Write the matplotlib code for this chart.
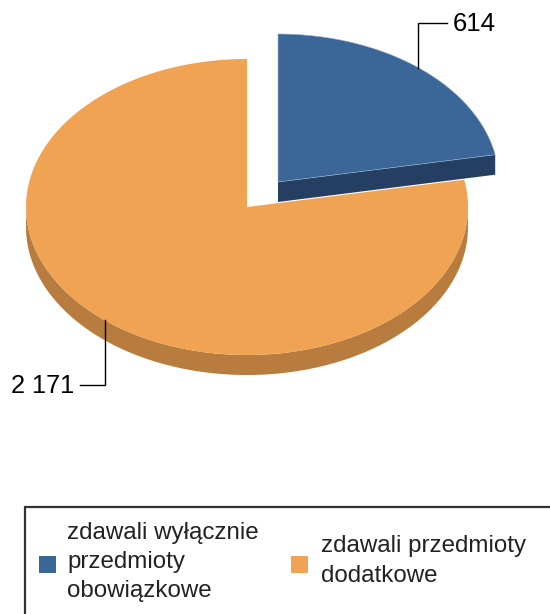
import numpy as np
import matplotlib
matplotlib.use("Agg")
import matplotlib.pyplot as plt
from matplotlib.patches import Polygon, Rectangle

plt.rcParams['font.family'] = ['Liberation Sans', 'DejaVu Sans']

categories = ["zdawali wyłącznie\nprzedmioty\nobowiązkowe", "zdawali przedmioty\ndodatkowe"]
values = [614, 2171]
value_labels = ["614", "2 171"]
top_colors = ["#3A6698", "#F0A352"]
side_colors = ["#243F61", "#B87D3E"]

W, H = 550, 614
fig = plt.figure(figsize=(W / 100, H / 100), dpi=100)
ax = fig.add_axes([0, 0, 1, 1])
ax.set_xlim(0, W)
ax.set_ylim(H, 0)
ax.axis("off")

RX, RY, DEPTH = 221, 148, 20
CENTER_ORANGE = (247, 207)
CENTER_BLUE = (278, 182)

share = values[0] / sum(values) * 2 * np.pi


def arc(c, t0, t1, n=240, dy=0):
    t = np.linspace(t0, t1, n)
    return np.column_stack([c[0] + RX * np.sin(t), c[1] - RY * np.cos(t) + dy])


# orange slice: rim then top surface
a = arc(CENTER_ORANGE, np.pi / 2, 3 * np.pi / 2)
b = arc(CENTER_ORANGE, np.pi / 2, 3 * np.pi / 2, dy=DEPTH)
ax.add_patch(Polygon(np.vstack([a, b[::-1]]), closed=True, fc=side_colors[1], ec="none", zorder=1))
top = np.vstack([[CENTER_ORANGE], arc(CENTER_ORANGE, share, 2 * np.pi)])
ax.add_patch(Polygon(top, closed=True, fc=top_colors[1], ec="none", zorder=2))

# blue exploded slice: cut face then top surface
end = arc(CENTER_BLUE, share, share, n=1)[0]
face = [CENTER_BLUE, end, (end[0], end[1] + DEPTH), (CENTER_BLUE[0], CENTER_BLUE[1] + DEPTH)]
ax.add_patch(Polygon(face, closed=True, fc=side_colors[0], ec="none", zorder=3))
top = np.vstack([[CENTER_BLUE], arc(CENTER_BLUE, 0, share)])
ax.add_patch(Polygon(top, closed=True, fc=top_colors[0], ec="#9DB2CB", lw=0.4, zorder=4))

# leader lines and value labels
ax.plot([418, 418, 447], [68, 23, 23], color="black", lw=1, zorder=5, solid_joinstyle="miter")
ax.text(453, 24, value_labels[0], fontsize=18.5, ha="left", va="center", color="black")
ax.plot([105, 105, 80], [320, 385, 385], color="black", lw=1, zorder=5, solid_joinstyle="miter")
ax.text(11, 386, value_labels[1], fontsize=18.3, ha="left", va="center", color="black")

# legend
ax.add_patch(Rectangle((25, 507), 540, 130, fc="white", ec="#333333", lw=1.6, zorder=1))
for x, txt_x, y, col, cat in zip([39, 291], [67, 321], [562, 561], top_colors, categories):
    ax.add_patch(Rectangle((x, 556), 17, 17, fc=col, ec="none", zorder=2))
    ax.text(txt_x, y, cat, fontsize=17.4, ha="left", va="center", color="#222222",
            linespacing=1.42, zorder=3)

fig.savefig("out.png", dpi=100, facecolor="white")
